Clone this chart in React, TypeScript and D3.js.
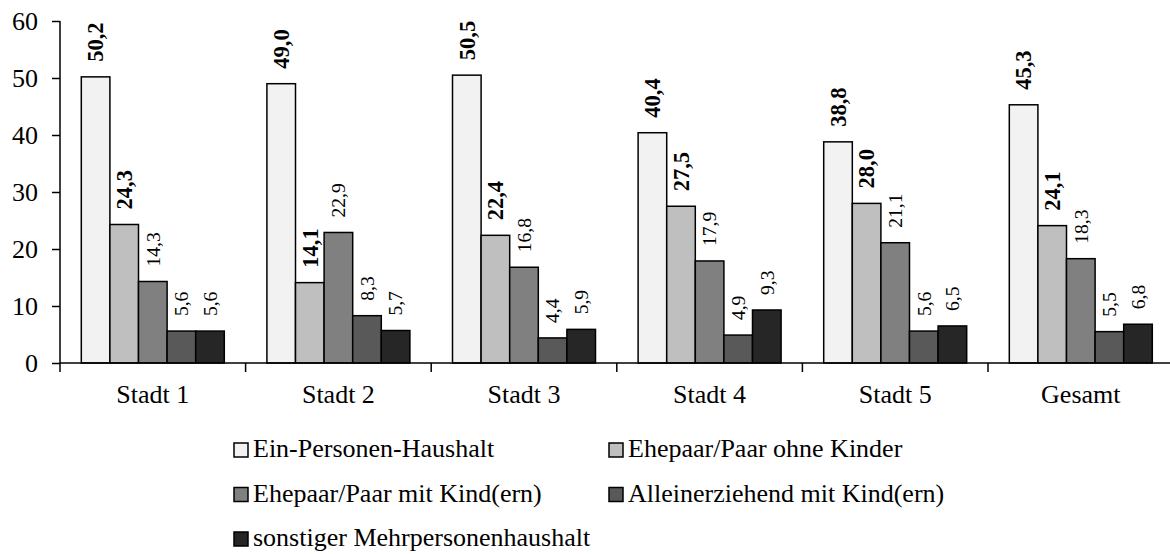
import React, { useEffect, useRef } from "react"
import * as d3 from "d3"

const categories = ["Stadt 1", "Stadt 2", "Stadt 3", "Stadt 4", "Stadt 5", "Gesamt"]

const seriesNames = [
  "Ein-Personen-Haushalt",
  "Ehepaar/Paar ohne Kinder",
  "Ehepaar/Paar mit Kind(ern)",
  "Alleinerziehend mit Kind(ern)",
  "sonstiger Mehrpersonenhaushalt",
]

const einPersonen = [50.2, 49.0, 50.5, 40.4, 38.8, 45.3]
const paarOhneKinder = [24.3, 14.1, 22.4, 27.5, 28.0, 24.1]
const paarMitKind = [14.3, 22.9, 16.8, 17.9, 21.1, 18.3]
const alleinerziehend = [5.6, 8.3, 4.4, 4.9, 5.6, 5.5]
const sonstige = [5.6, 5.7, 5.9, 9.3, 6.5, 6.8]

const yTicks = [0, 10, 20, 30, 40, 50, 60]

const colors = ["#f2f2f2", "#bfbfbf", "#808080", "#595959", "#262626"]

const W = 1170
const H = 554

export default function App() {
  const ref = useRef<SVGSVGElement>(null)

  useEffect(() => {
    const svg = d3.select(ref.current)
    svg.selectAll("*").remove()

    const values = [einPersonen, paarOhneKinder, paarMitKind, alleinerziehend, sonstige]
    const left = 60
    const catW = 185.6
    const font = "'Liberation Serif', 'Times New Roman', serif"

    const x0 = d3.scaleBand().domain(categories).range([left, left + catW * categories.length]).padding(0)
    const x1 = d3.scaleBand().domain(seriesNames).range([0, catW]).paddingInner(0).paddingOuter(0.745)
    const y = d3.scaleLinear().domain([0, 60]).range([363, 21])

    const fmt = (v: number) => d3.format(".1f")(v).replace(".", ",")

    // bars
    seriesNames.forEach((s, si) => {
      const g = svg.append("g")
      g.selectAll("rect")
        .data(values[si])
        .enter()
        .append("rect")
        .attr("x", (d, i) => (x0(categories[i]) as number) + (x1(s) as number))
        .attr("y", (d) => y(d))
        .attr("width", x1.bandwidth())
        .attr("height", (d) => y(0) - y(d))
        .attr("fill", colors[si])
        .attr("stroke", "#000")
        .attr("stroke-width", 1.5)

      const bold = si < 2
      g.selectAll("text")
        .data(values[si])
        .enter()
        .append("text")
        .attr("transform", (d, i) => {
          const cx = (x0(categories[i]) as number) + (x1(s) as number) + x1.bandwidth() / 2
          return "translate(" + cx + "," + (y(d) - 15) + ") rotate(-90)"
        })
        .attr("dy", "0.35em")
        .attr("font-family", font)
        .attr("font-size", bold ? 22.5 : 19.5)
        .attr("font-weight", bold ? "bold" : "normal")
        .attr("fill", "#000")
        .text((d) => fmt(d))
    })

    // y axis
    const yAxis = d3.axisLeft(y).tickValues(yTicks).tickSize(8).tickPadding(14).tickFormat((d) => String(d))
    const ya = svg.append("g").attr("transform", "translate(" + left + ",0)").call(yAxis)
    ya.select(".domain").attr("d", "M0," + y(60) + "V" + y(0)).attr("stroke", "#000").attr("stroke-width", 1.5)
    ya.selectAll(".tick line").attr("stroke", "#000").attr("stroke-width", 1.5)
    ya.selectAll(".tick text").attr("font-family", font).attr("font-size", 26).attr("fill", "#000")

    // x axis
    svg.append("line")
      .attr("x1", left).attr("x2", W)
      .attr("y1", y(0)).attr("y2", y(0))
      .attr("stroke", "#000").attr("stroke-width", 1.5)
    svg.selectAll(".xtick")
      .data(categories)
      .enter()
      .append("line")
      .attr("class", "xtick")
      .attr("x1", (d) => x0(d) as number).attr("x2", (d) => x0(d) as number)
      .attr("y1", y(0)).attr("y2", y(0) + 9)
      .attr("stroke", "#000").attr("stroke-width", 1.5)
    svg.selectAll(".xlabel")
      .data(categories)
      .enter()
      .append("text")
      .attr("class", "xlabel")
      .attr("x", (d) => (x0(d) as number) + catW / 2)
      .attr("y", 403)
      .attr("text-anchor", "middle")
      .attr("font-family", font)
      .attr("font-size", 26)
      .text((d) => d)

    // legend
    const legendX = [234, 609]
    const legendY = [457, 501.5, 546]
    const lg = svg.append("g")
    seriesNames.forEach((s, i) => {
      const lx = legendX[i % 2]
      const ly = legendY[Math.floor(i / 2)]
      lg.append("rect")
        .attr("x", lx).attr("y", ly - 14)
        .attr("width", 14).attr("height", 14)
        .attr("fill", colors[i])
        .attr("stroke", "#000").attr("stroke-width", 1.5)
      lg.append("text")
        .attr("x", lx + 19).attr("y", ly)
        .attr("font-family", font)
        .attr("font-size", 26)
        .text(s)
    })
  }, [])

  return (
    <svg
      ref={ref}
      width={W}
      height={H}
      style={{ position: "absolute", left: 0, top: 0, background: "#fff" }}
    />
  )
}
